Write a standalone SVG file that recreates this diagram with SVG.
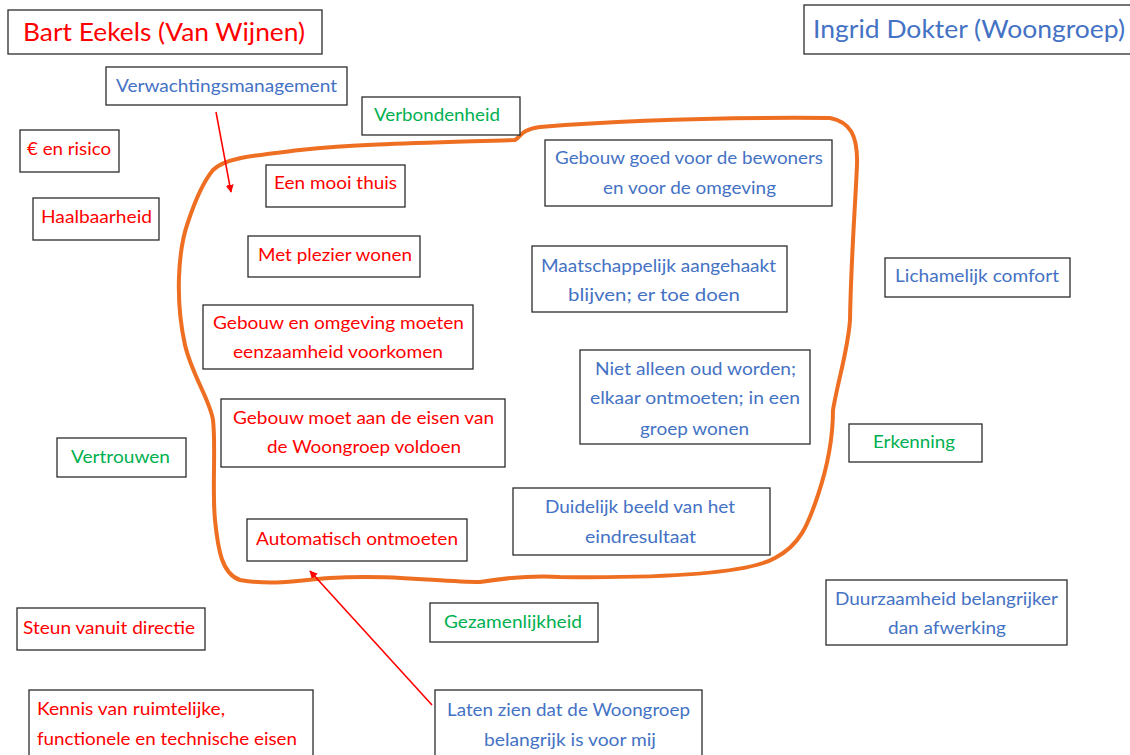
<svg xmlns="http://www.w3.org/2000/svg" width="1130" height="755" viewBox="0 0 1130 755">
<style>
.box{fill:#fff;stroke:#2b2b2b;stroke-width:1.3}
text{font-family:Lato,"Open Sans","Liberation Sans",sans-serif;font-size:17px}
.r{fill:#FF0000}.b{fill:#4472C4}.g{fill:#00B050}
.big{font-size:25px}
</style>
<defs>
<marker id="ah" viewBox="0 0 10 10" refX="9" refY="5" markerWidth="8" markerHeight="8" orient="auto-start-reverse" markerUnits="userSpaceOnUse">
<path d="M0,0 L10,5 L0,10 z" fill="#FF0000"/>
</marker>
</defs>
<rect width="1130" height="755" fill="#fff"/>
<g id="connectors">
<path d="M213,170 C225,158 250,156 300,150 C360,144 420,143 515,140 C522,136 520,130 540,127 C600,122 700,117 830,118 C850,122 858,135 857,165 C855,210 851,260 850,320 C848,350 838,380 833,410 C833,440 828,465 818,495 C808,525 800,545 775,558 C745,575 650,578 560,577 C530,575 505,578 480,582 C440,582 390,574 330,578 C300,580 275,586 240,580 C222,574 218,550 215,520 C212,490 216,445 213,420 C210,400 192,375 185,345 C175,300 178,250 188,222 C196,198 203,182 213,170 Z" fill="none" stroke="#EE6F22" stroke-width="4" stroke-linejoin="round"/>
<line x1="216" y1="112" x2="231" y2="192" stroke="#FF0000" stroke-width="1.6" marker-end="url(#ah)"/>
<line x1="432" y1="705" x2="310" y2="571" stroke="#FF0000" stroke-width="1.6" marker-end="url(#ah)"/>
</g>
<g id="n-bart"><rect class="box" x="8" y="10" width="314" height="44"/><text class="r big" x="23" y="41" textLength="282" lengthAdjust="spacingAndGlyphs">Bart Eekels (Van Wijnen)</text></g>
<g id="n-ingrid"><rect class="box" x="804" y="5" width="330" height="49"/><text class="b big" x="813" y="38" textLength="312" lengthAdjust="spacingAndGlyphs">Ingrid Dokter (Woongroep)</text></g>
<g id="n-verw"><rect class="box" x="106" y="67" width="241" height="38"/><text class="b" x="116" y="92" textLength="221" lengthAdjust="spacingAndGlyphs">Verwachtingsmanagement</text></g>
<g id="n-verb"><rect class="box" x="362" y="97" width="158" height="38"/><text class="g" x="374" y="121" textLength="126" lengthAdjust="spacingAndGlyphs">Verbondenheid</text></g>
<g id="n-euro"><rect class="box" x="20" y="130" width="99" height="42"/><text class="r" x="27" y="155" textLength="84" lengthAdjust="spacingAndGlyphs">€ en risico</text></g>
<g id="n-haal"><rect class="box" x="33" y="198" width="126" height="42"/><text class="r" x="41" y="223" textLength="111" lengthAdjust="spacingAndGlyphs">Haalbaarheid</text></g>
<g id="n-mooi"><rect class="box" x="266" y="165" width="139" height="42"/><text class="r" x="274" y="189" textLength="123" lengthAdjust="spacingAndGlyphs">Een mooi thuis</text></g>
<g id="n-plezier"><rect class="box" x="248" y="236" width="172" height="41"/><text class="r" x="258" y="261" textLength="154" lengthAdjust="spacingAndGlyphs">Met plezier wonen</text></g>
<g id="n-eenz"><rect class="box" x="203" y="305" width="270" height="64"/><text class="r" x="213" y="329" textLength="251" lengthAdjust="spacingAndGlyphs">Gebouw en omgeving moeten</text><text class="r" x="233" y="358" textLength="210" lengthAdjust="spacingAndGlyphs">eenzaamheid voorkomen</text></g>
<g id="n-eisen"><rect class="box" x="221" y="399" width="284" height="68"/><text class="r" x="233" y="424" textLength="261" lengthAdjust="spacingAndGlyphs">Gebouw moet aan de eisen van</text><text class="r" x="267" y="453" textLength="194" lengthAdjust="spacingAndGlyphs">de Woongroep voldoen</text></g>
<g id="n-auto"><rect class="box" x="247" y="519" width="220" height="42"/><text class="r" x="256" y="545" textLength="202" lengthAdjust="spacingAndGlyphs">Automatisch ontmoeten</text></g>
<g id="n-gebouw"><rect class="box" x="545" y="140" width="287" height="66"/><text class="b" x="555" y="164" textLength="268" lengthAdjust="spacingAndGlyphs">Gebouw goed voor de bewoners</text><text class="b" x="603" y="194" textLength="173" lengthAdjust="spacingAndGlyphs">en voor de omgeving</text></g>
<g id="n-maat"><rect class="box" x="532" y="246" width="255" height="66"/><text class="b" x="541" y="272" textLength="235" lengthAdjust="spacingAndGlyphs">Maatschappelijk aangehaakt</text><text class="b" x="568" y="301" textLength="172" lengthAdjust="spacingAndGlyphs">blijven; er toe doen</text></g>
<g id="n-niet"><rect class="box" x="580" y="350" width="230" height="94"/><text class="b" x="595" y="375" textLength="201" lengthAdjust="spacingAndGlyphs">Niet alleen oud worden;</text><text class="b" x="590" y="404" textLength="210" lengthAdjust="spacingAndGlyphs">elkaar ontmoeten; in een</text><text class="b" x="640" y="435" textLength="109" lengthAdjust="spacingAndGlyphs">groep wonen</text></g>
<g id="n-duid"><rect class="box" x="513" y="488" width="257" height="67"/><text class="b" x="545" y="513" textLength="190" lengthAdjust="spacingAndGlyphs">Duidelijk beeld van het</text><text class="b" x="585" y="543" textLength="111" lengthAdjust="spacingAndGlyphs">eindresultaat</text></g>
<g id="n-lich"><rect class="box" x="885" y="258" width="185" height="39"/><text class="b" x="895" y="282" textLength="164" lengthAdjust="spacingAndGlyphs">Lichamelijk comfort</text></g>
<g id="n-erk"><rect class="box" x="849" y="424" width="133" height="38"/><text class="g" x="873" y="448" textLength="82" lengthAdjust="spacingAndGlyphs">Erkenning</text></g>
<g id="n-duur"><rect class="box" x="826" y="580" width="241" height="65"/><text class="b" x="835" y="605" textLength="223" lengthAdjust="spacingAndGlyphs">Duurzaamheid belangrijker</text><text class="b" x="888" y="634" textLength="118" lengthAdjust="spacingAndGlyphs">dan afwerking</text></g>
<g id="n-vert"><rect class="box" x="57" y="438" width="129" height="39"/><text class="g" x="71" y="463" textLength="99" lengthAdjust="spacingAndGlyphs">Vertrouwen</text></g>
<g id="n-steun"><rect class="box" x="17" y="608" width="188" height="42"/><text class="r" x="23" y="634" textLength="172" lengthAdjust="spacingAndGlyphs">Steun vanuit directie</text></g>
<g id="n-gez"><rect class="box" x="430" y="603" width="168" height="39"/><text class="g" x="444" y="628" textLength="138" lengthAdjust="spacingAndGlyphs">Gezamenlijkheid</text></g>
<g id="n-kennis"><rect class="box" x="29" y="690" width="284" height="70"/><text class="r" x="37" y="715" textLength="188" lengthAdjust="spacingAndGlyphs">Kennis van ruimtelijke,</text><text class="r" x="37" y="745" textLength="260" lengthAdjust="spacingAndGlyphs">functionele en technische eisen</text></g>
<g id="n-laten"><rect class="box" x="435" y="690" width="267" height="70"/><text class="b" x="447" y="716" textLength="243" lengthAdjust="spacingAndGlyphs">Laten zien dat de Woongroep</text><text class="b" x="484" y="746" textLength="172" lengthAdjust="spacingAndGlyphs">belangrijk is voor mij</text></g>
</svg>
